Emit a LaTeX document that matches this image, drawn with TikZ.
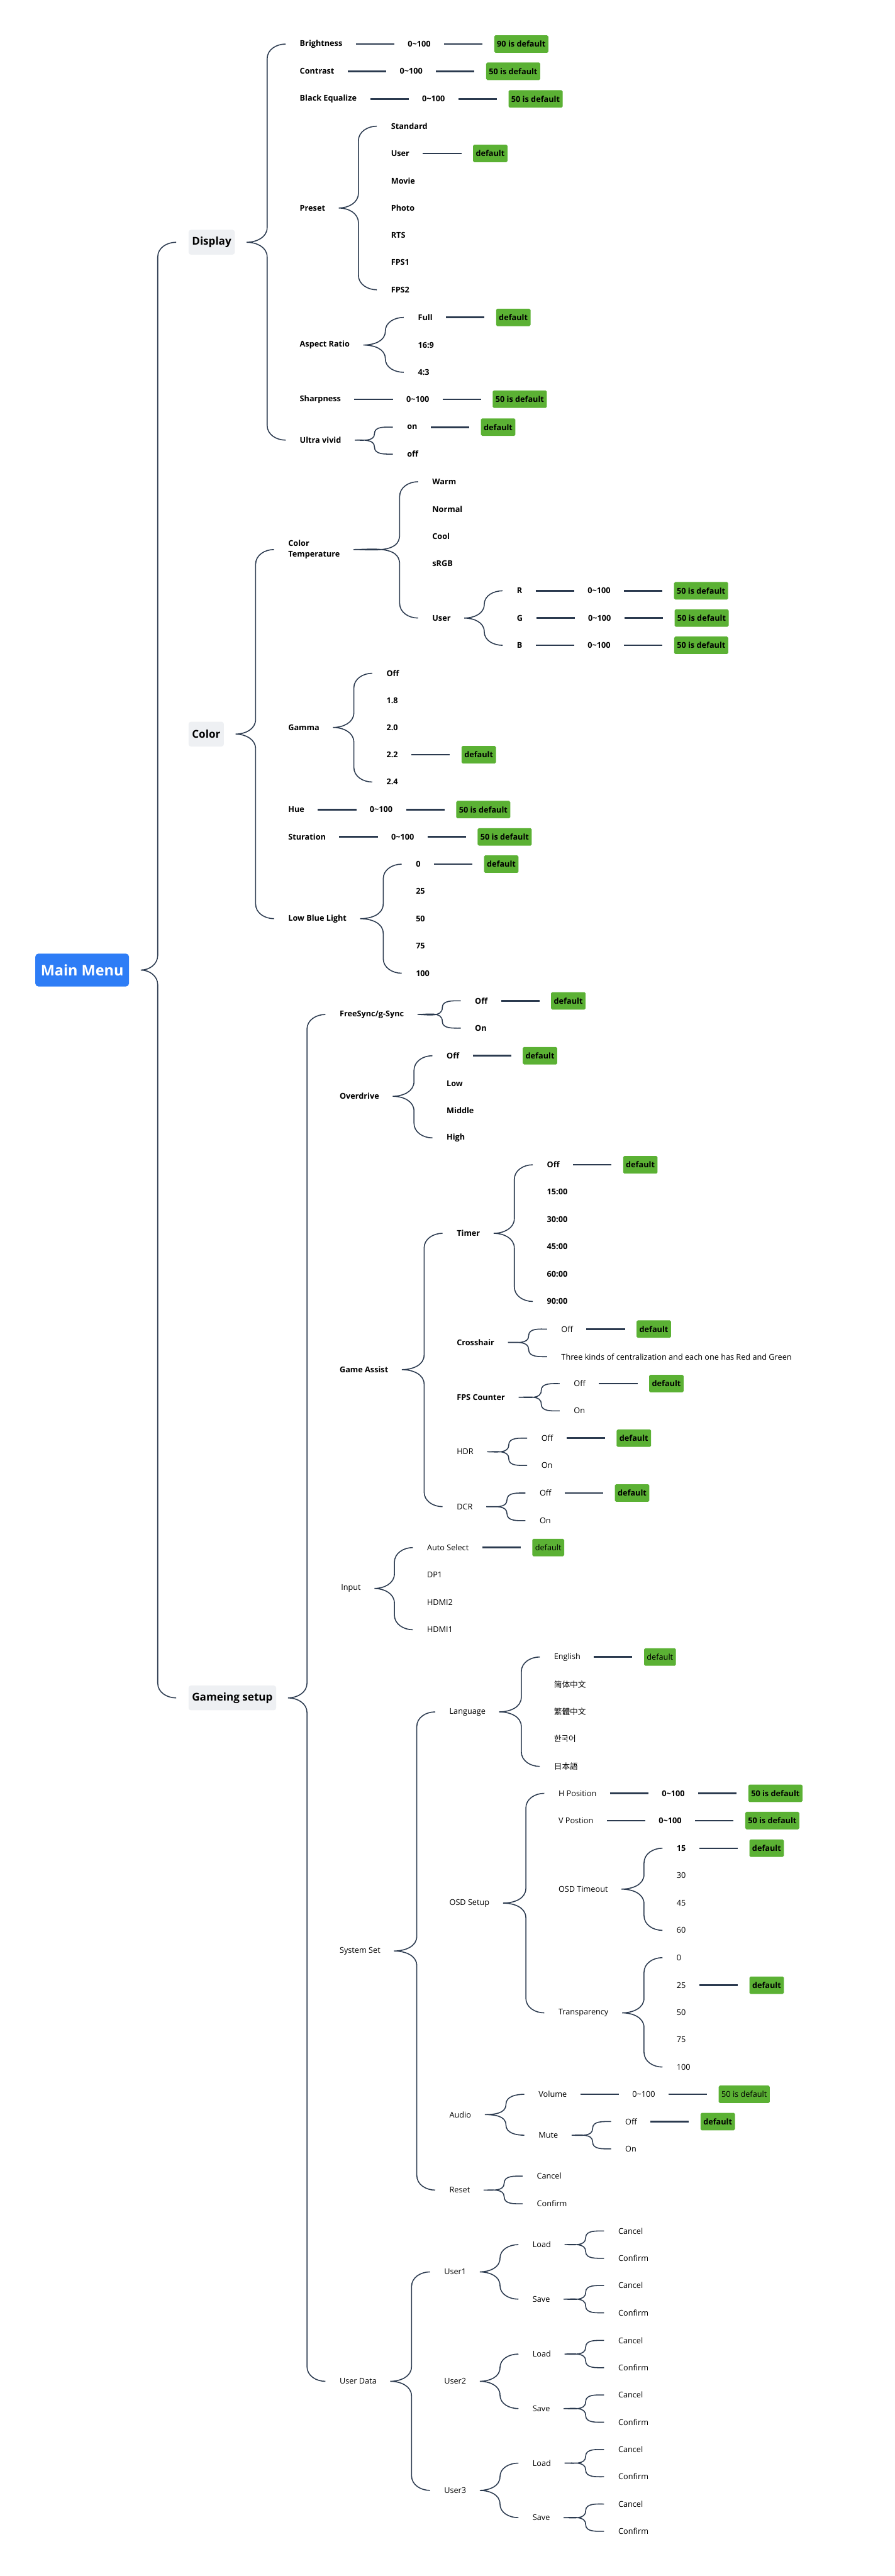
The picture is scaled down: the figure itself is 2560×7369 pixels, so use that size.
\documentclass[tikz,border=0pt]{standalone}
\usepackage{fontspec}
\setmainfont{Open Sans}
\newfontfamily\cjk{Noto Sans CJK SC}
\usetikzlibrary{positioning,calc}
\definecolor{navy}{HTML}{2B3A4F}
\definecolor{mmgreen}{HTML}{5BB134}
\definecolor{mmgray}{HTML}{EEF0F3}
\definecolor{mmblue}{HTML}{2E7DF6}
\newcommand{\mmfont}{\fontsize{13}{17}\selectfont}
% curly brace from a parent to its first and last child
\newcommand{\mmbrace}[3]{%
  \draw[brace] let \p1=($(#1.east)+(19pt,0)$), \p2=($(#2.west)+(-50pt,0)$),
      \p3=($(#3.west)+(-50pt,0)$), \n1={min(24,(\y2-\y1)/2)},
      \n2={min(24,(\y1-\y3)/2)} in
    ($(#2.west)+(-20pt,0)$) to[out=180,in=90] (\x2,\y2-\n1*1pt)
    -- (\x2,\y1+\n1*1pt) to[out=-90,in=0] (\p1)
    to[out=0,in=90] (\x2,\y1-\n2*1pt)
    -- (\x2,\y3+\n2*1pt) to[out=-90,in=180] ($(#3.west)+(-20pt,0)$);}

\begin{document}
\begin{tikzpicture}[x=0.02cm, y=-0.02cm, node distance=3.52cm,
    lbl/.style={anchor=west, inner sep=3pt, font=\mmfont},
    bf/.style={font=\mmfont\bfseries},
    dflt/.style={fill=mmgreen, rounded corners=2pt, minimum height=1cm, inner xsep=0.16cm, inner ysep=0pt, font=\mmfont\bfseries},
    dfltl/.style={dflt, font=\mmfont},
    topic/.style={anchor=west, fill=mmgray, rounded corners=4pt, minimum height=1.42cm, inner xsep=0.2cm, font=\fontsize{17.5}{21}\selectfont\bfseries},
    root/.style={fill=mmblue, text=white, rounded corners=5pt, minimum width=5.36cm, minimum height=1.88cm, font=\fontsize{24}{28}\selectfont\bfseries},
    brace/.style={draw=navy, line width=1.6pt},
    link/.style={draw=navy, line width=2.6pt, shorten <=0.66cm, shorten >=0.66cm}]
  \fill[white] (0,0) rectangle (2560,7369);
  \useasboundingbox (0,0) rectangle (2560,7369);
  % ================================================================ root and topics
  \node[root] (mm) at (235,2775) {Main Menu};
  \node[topic] (disp) at (539,693) {Display};
  \node[topic] (color) at (539,2100) {Color};
  \node[topic] (game) at (539,4857) {Gameing setup};
  \mmbrace{mm}{disp}{game}
  % ================================================================ Display
  \foreach \t/\yy/\nm/\dv in {Brightness/126/bright/90, Contrast/204/contr/50, Black Equalize/283/blackeq/50, Sharpness/1142/sharp/50} {
    \node[lbl, bf] (\nm) at (852,\yy) {\t};
    \node[lbl, bf, right=of \nm] (\nm v) {0\textasciitilde100};
    \node[dflt, right=of \nm v] (\nm d) {\dv\ is default};
    \draw[link] (\nm) -- (\nm v);
    \draw[link] (\nm v) -- (\nm d);
  }
  \node[lbl, bf] (preset) at (852,595) {Preset};
  \foreach \t/\yy/\nm in {Standard/361/pstd, User/439/puser, Movie/517/pmovie, Photo/595/pphoto, RTS/673/prts, FPS1/751/pfps1, FPS2/829/pfps2}
    \node[lbl, bf] (\nm) at (1113,\yy) {\t};
  \node[dflt, right=of puser] (puserd) {default};
  \draw[link] (puser) -- (puserd);
  \mmbrace{preset}{pstd}{pfps2}
  \node[lbl, bf] (aspect) at (852,987) {Aspect Ratio};
  \foreach \t/\yy/\nm in {Full/908/afull, 16:9/987/a169, 4:3/1065/a43}
    \node[lbl, bf] (\nm) at (1190,\yy) {\t};
  \node[dflt, right=of afull] (afulld) {default};
  \draw[link] (afull) -- (afulld);
  \mmbrace{aspect}{afull}{a43}
  \node[lbl, bf] (ultra) at (852,1259) {Ultra vivid};
  \node[lbl, bf] (uon) at (1159,1222) {on};
  \node[lbl, bf] (uoff) at (1159,1299) {off};
  \node[dflt, right=of uon] (uond) {default};
  \draw[link] (uon) -- (uond);
  \mmbrace{ultra}{uon}{uoff}
  \mmbrace{disp}{bright}{ultra}
  % ================================================================ Color
  \node[lbl, bf, align=left] (ctemp) at (819,1572) {Color\\Temperature};
  \foreach \t/\yy/\nm in {Warm/1378/cwarm, Normal/1456/cnorm, Cool/1534/ccool, sRGB/1612/csrgb, User/1768/cuser}
    \node[lbl, bf] (\nm) at (1231,\yy) {\t};
  \foreach \t/\yy/\nm in {R/1690/cr, G/1768/cg, B/1846/cb} {
    \node[lbl, bf] (\nm) at (1473,\yy) {\t};
    \node[lbl, bf, right=of \nm] (\nm v) {0\textasciitilde100};
    \node[dflt, right=of \nm v] (\nm d) {50 is default};
    \draw[link] (\nm) -- (\nm v);
    \draw[link] (\nm v) -- (\nm d);
  }
  \mmbrace{cuser}{cr}{cb}
  \mmbrace{ctemp}{cwarm}{cuser}
  \node[lbl, bf] (gamma) at (819,2081) {Gamma};
  \foreach \t/\yy/\nm in {Off/1926/goff, 1.8/2004/g18, 2.0/2081/g20, 2.2/2159/g22, 2.4/2237/g24}
    \node[lbl, bf] (\nm) at (1100,\yy) {\t};
  \node[dflt, right=of g22] (g22d) {default};
  \draw[link] (g22) -- (g22d);
  \mmbrace{gamma}{goff}{g24}
  \foreach \t/\yy/\nm in {Hue/2316/hue, Sturation/2394/satur} {
    \node[lbl, bf] (\nm) at (819,\yy) {\t};
    \node[lbl, bf, right=of \nm] (\nm v) {0\textasciitilde100};
    \node[dflt, right=of \nm v] (\nm d) {50 is default};
    \draw[link] (\nm) -- (\nm v);
    \draw[link] (\nm v) -- (\nm d);
  }
  \node[lbl, bf] (lowblue) at (819,2628) {Low Blue Light};
  \foreach \t/\yy/\nm in {0/2472/lb0, 25/2550/lb25, 50/2628/lb50, 75/2706/lb75, 100/2784/lb100}
    \node[lbl, bf] (\nm) at (1184,\yy) {\t};
  \node[dflt, right=of lb0] (lb0d) {default};
  \draw[link] (lb0) -- (lb0d);
  \mmbrace{lowblue}{lb0}{lb100}
  \mmbrace{color}{ctemp}{lowblue}
  % ================================================================ Gameing setup
  \node[lbl, bf] (fsync) at (966,2902) {FreeSync/g-Sync};
  \node[lbl, bf] (fsoff) at (1353,2863) {Off};
  \node[lbl, bf] (fson) at (1353,2941) {On};
  \node[dflt, right=of fsoff] (fsoffd) {default};
  \draw[link] (fsoff) -- (fsoffd);
  \mmbrace{fsync}{fsoff}{fson}
  \node[lbl, bf] (odrive) at (966,3136) {Overdrive};
  \foreach \t/\yy/\nm in {Off/3020/odoff, Low/3099/odlow, Middle/3177/odmid, High/3255/odhigh}
    \node[lbl, bf] (\nm) at (1272,\yy) {\t};
  \node[dflt, right=of odoff] (odoffd) {default};
  \draw[link] (odoff) -- (odoffd);
  \mmbrace{odrive}{odoff}{odhigh}
  % game assist
  \node[lbl, bf] (gassist) at (966,3918) {Game Assist};
  \node[lbl, bf] (timer) at (1301,3528) {Timer};
  \foreach \t/\yy/\nm in {Off/3332/toff, 15:00/3410/t15, 30:00/3488/t30, 45:00/3566/t45, 60:00/3645/t60, 90:00/3723/t90}
    \node[lbl, bf] (\nm) at (1559,\yy) {\t};
  \node[dflt, right=of toff] (toffd) {default};
  \draw[link] (toff) -- (toffd);
  \mmbrace{timer}{toff}{t90}
  \node[lbl, bf] (cross) at (1301,3840) {Crosshair};
  \node[lbl] (croff) at (1600,3802) {Off};
  \node[lbl] (crtxt) at (1600,3881) {Three kinds of centralization and each one has Red and Green};
  \node[dflt, right=of croff] (croffd) {default};
  \draw[link] (croff) -- (croffd);
  \mmbrace{cross}{croff}{crtxt}
  \node[lbl, bf] (fpsc) at (1301,3997) {FPS Counter};
  \node[lbl] (fpoff) at (1636,3958) {Off};
  \node[lbl] (fpon) at (1636,4036) {On};
  \node[dflt, right=of fpoff] (fpoffd) {default};
  \draw[link] (fpoff) -- (fpoffd);
  \mmbrace{fpsc}{fpoff}{fpon}
  \node[lbl] (hdr) at (1301,4153) {HDR};
  \node[lbl] (hdoff) at (1543,4114) {Off};
  \node[lbl] (hdon) at (1543,4192) {On};
  \node[dflt, right=of hdoff] (hdoffd) {default};
  \draw[link] (hdoff) -- (hdoffd);
  \mmbrace{hdr}{hdoff}{hdon}
  \node[lbl] (dcr) at (1301,4310) {DCR};
  \node[lbl] (dcoff) at (1538,4271) {Off};
  \node[lbl] (dcon) at (1538,4350) {On};
  \node[dflt, right=of dcoff] (dcoffd) {default};
  \draw[link] (dcoff) -- (dcoffd);
  \mmbrace{dcr}{dcoff}{dcon}
  \mmbrace{gassist}{timer}{dcr}
  % input
  \node[lbl] (input) at (970,4544) {Input};
  \foreach \t/\yy/\nm in {Auto Select/4427/iauto, DP1/4505/idp1, HDMI2/4584/ihdmi2, HDMI1/4662/ihdmi1}
    \node[lbl] (\nm) at (1216,\yy) {\t};
  \node[dfltl, right=of iauto] (iautod) {default};
  \draw[link] (iauto) -- (iautod);
  \mmbrace{input}{iauto}{ihdmi1}
  % system set
  \node[lbl] (sysset) at (966,5581) {System Set};
  \node[lbl] (lang) at (1280,4897) {Language};
  \foreach \t/\yy/\nm in {English/4740/leng, {\cjk 简体中文}/4819/lzhs, {\cjk 繁體中文}/4897/lzht, {\cjk 한국어}/4974/lkor, {\cjk 日本語}/5053/ljpn}
    \node[lbl] (\nm) at (1579,\yy) {\t};
  \node[dfltl, right=of leng] (lengd) {default};
  \draw[link] (leng) -- (lengd);
  \mmbrace{lang}{leng}{ljpn}
  \node[lbl] (osd) at (1280,5444) {OSD Setup};
  \foreach \t/\yy/\nm in {H Position/5130/hpos, V Postion/5208/vpos} {
    \node[lbl] (\nm) at (1592,\yy) {\t};
    \node[lbl, bf, right=of \nm] (\nm v) {0\textasciitilde100};
    \node[dflt, right=of \nm v] (\nm d) {50 is default};
    \draw[link] (\nm) -- (\nm v);
    \draw[link] (\nm v) -- (\nm d);
  }
  \node[lbl] (osdt) at (1592,5404) {OSD Timeout};
  \node[lbl, bf] (ot15) at (1930,5287) {15};
  \foreach \t/\yy/\nm in {30/5365/ot30, 45/5444/ot45, 60/5522/ot60}
    \node[lbl] (\nm) at (1930,\yy) {\t};
  \node[dflt, right=of ot15] (ot15d) {default};
  \draw[link] (ot15) -- (ot15d);
  \mmbrace{osdt}{ot15}{ot60}
  \node[lbl] (transp) at (1592,5758) {Transparency};
  \foreach \t/\yy/\nm in {0/5600/tr0, 25/5679/tr25, 50/5757/tr50, 75/5835/tr75, 100/5913/tr100}
    \node[lbl] (\nm) at (1930,\yy) {\t};
  \node[dflt, right=of tr25] (tr25d) {default};
  \draw[link] (tr25) -- (tr25d);
  \mmbrace{transp}{tr0}{tr100}
  \mmbrace{osd}{hpos}{transp}
  \node[lbl] (audio) at (1280,6049) {Audio};
  \node[lbl] (vol) at (1535,5991) {Volume};
  \node[lbl, right=of vol] (volv) {0\textasciitilde100};
  \node[dfltl, right=of volv] (vold) {50 is default};
  \draw[link] (vol) -- (volv);
  \draw[link] (volv) -- (vold);
  \node[lbl] (mute) at (1535,6108) {Mute};
  \node[lbl] (moff) at (1783,6069) {Off};
  \node[lbl] (mon) at (1783,6147) {On};
  \node[dflt, right=of moff] (moffd) {default};
  \draw[link] (moff) -- (moffd);
  \mmbrace{mute}{moff}{mon}
  \mmbrace{audio}{vol}{mute}
  \node[lbl] (reset) at (1280,6265) {Reset};
  \node[lbl] (rcan) at (1530,6225) {Cancel};
  \node[lbl] (rcon) at (1530,6304) {Confirm};
  \mmbrace{reset}{rcan}{rcon}
  \mmbrace{sysset}{lang}{reset}
  % user data
  \node[lbl] (udata) at (966,6812) {User Data};
  \foreach \u/\yy in {1/6499, 2/6812, 3/7124} {
    \node[lbl] (user\u) at (1265,\yy) {User\u};
    \node[lbl] (load\u) at (1518,\yy-78) {Load};
    \node[lbl] (save\u) at (1518,\yy+78) {Save};
    \node[lbl] (lcan\u) at (1763,\yy-117) {Cancel};
    \node[lbl] (lcon\u) at (1763,\yy-39) {Confirm};
    \node[lbl] (scan\u) at (1763,\yy+39) {Cancel};
    \node[lbl] (scon\u) at (1763,\yy+117) {Confirm};
    \mmbrace{load\u}{lcan\u}{lcon\u}
    \mmbrace{save\u}{scan\u}{scon\u}
    \mmbrace{user\u}{load\u}{save\u}
  }
  \mmbrace{udata}{user1}{user3}
  \mmbrace{game}{fsync}{udata}
\end{tikzpicture}
\end{document}
